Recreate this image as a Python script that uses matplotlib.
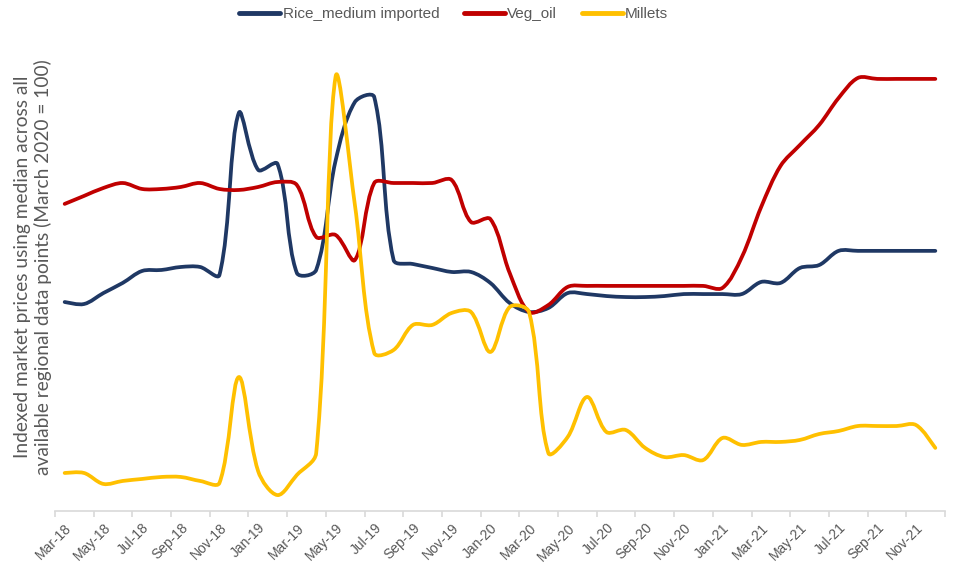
import matplotlib
matplotlib.use("Agg")
import matplotlib.pyplot as plt
from matplotlib.path import Path
from matplotlib.patches import PathPatch
from matplotlib.lines import Line2D
import numpy as np

months = ["Mar-18", "Apr-18", "May-18", "Jun-18", "Jul-18", "Aug-18", "Sep-18", "Oct-18",
          "Nov-18", "Dec-18", "Jan-19", "Feb-19", "Mar-19", "Apr-19", "May-19", "Jun-19",
          "Jul-19", "Aug-19", "Sep-19", "Oct-19", "Nov-19", "Dec-19", "Jan-20", "Feb-20",
          "Mar-20", "Apr-20", "May-20", "Jun-20", "Jul-20", "Aug-20", "Sep-20", "Oct-20",
          "Nov-20", "Dec-20", "Jan-21", "Feb-21", "Mar-21", "Apr-21", "May-21", "Jun-21",
          "Jul-21", "Aug-21", "Sep-21", "Oct-21", "Nov-21", "Dec-21"]

rice = [105.0, 104.0, 109.5, 114.6, 120.6, 121.1, 122.6, 122.6, 118.6, 200.0,
        171.4, 174.4, 119.6, 121.1, 175.9, 205.5, 208.0, 126.1, 124.1, 122.1,
        120.1, 120.1, 114.6, 104.5, 100.0, 102.0, 109.5, 109.0, 108.0, 107.5,
        107.5, 108.0, 109.0, 109.0, 109.0, 109.0, 115.1, 114.6, 122.1, 123.6,
        130.7, 130.7, 130.7, 130.7, 130.7, 130.7]

veg_oil = [154.3, 158.3, 162.3, 164.8, 161.8, 161.8, 162.8, 164.8, 161.8, 161.3,
           162.8, 165.3, 163.8, 137.7, 138.7, 126.1, 164.8, 164.8, 164.8, 164.8,
           166.3, 145.2, 146.7, 119.6, 100.0, 103.5, 112.6, 113.1, 113.1, 113.1,
           113.1, 113.1, 113.1, 113.1, 112.1, 127.6, 152.8, 173.4, 183.9, 194.0,
           207.5, 217.6, 217.1, 217.1, 217.1, 217.1]

millets = [19.1, 19.1, 13.6, 15.1, 16.1, 17.1, 17.1, 15.1, 14.1, 67.3,
           20.0, 8.0, 18.1, 29.1, 218.1, 153.8, 79.4, 80.9, 93.5, 93.5,
           99.5, 100.0, 79.9, 102.5, 100.0, 29.1, 37.2, 57.3, 39.7, 40.7,
           31.7, 27.1, 28.1, 25.6, 36.7, 33.2, 34.7, 34.7, 35.7, 38.7,
           40.2, 42.7, 42.7, 42.7, 43.2, 31.7]

series = [("Rice_medium imported", rice, "#1F3864"),
          ("Veg_oil", veg_oil, "#C00000"),
          ("Millets", millets, "#FFC000")]

# pixels per data unit, used to weight the smoothing like Excel does
SX, SY = 19.35, 1.99


def smooth_path(xs, ys):
    # smoothed line: cubic bezier through each point, tangent split by segment length
    pts = np.column_stack([xs, ys])
    n = len(pts)
    scr = pts * [SX, SY]

    def seg(a, b):
        return np.hypot(*(scr[b] - scr[a]))

    verts = [pts[0]]
    codes = [Path.MOVETO]
    for i in range(n - 1):
        i0 = max(i - 1, 0)
        i3 = min(i + 2, n - 1)
        d01, d12, d23 = seg(i0, i), seg(i, i + 1), seg(i + 1, i3)
        t1 = (pts[i + 1] - pts[i0])
        t2 = (pts[i3] - pts[i])
        w1 = d12 / (d01 + d12) if d01 + d12 > 0 else 0.5
        w2 = d12 / (d12 + d23) if d12 + d23 > 0 else 0.5
        if i == 0:
            w1 = 0.5
        if i + 2 >= n:
            w2 = 0.5
        c1 = pts[i] + t1 * w1 / 3.0
        c2 = pts[i + 1] - t2 * w2 / 3.0
        verts += [c1, c2, pts[i + 1]]
        codes += [Path.CURVE4] * 3
    return Path(verts, codes)


fig = plt.figure(figsize=(9.57, 5.65), dpi=100)
ax = fig.add_axes([55 / 957, 1 - 511 / 565, 890 / 957, 451 / 565])

x = np.arange(len(months)) + 0.5
for name, vals, col in series:
    p = smooth_path(x, np.array(vals))
    ax.add_patch(PathPatch(p, facecolor="none", edgecolor=col, lw=2.7,
                           capstyle="round", joinstyle="round"))

ax.set_xlim(0, len(months))
ax.set_ylim(0, 226.6)

for s in ["top", "right", "left"]:
    ax.spines[s].set_visible(False)
ax.spines["bottom"].set_color("#D9D9D9")
ax.spines["bottom"].set_linewidth(1.2)
ax.set_yticks([])

ax.set_xticks(np.arange(0, len(months) + 1, 2))
ax.set_xticklabels([])
ax.tick_params(axis="x", which="major", length=4, color="#D9D9D9", width=1.2)
ax.set_xticks(x[::2], minor=True)
ax.set_xticklabels(months[::2], minor=True, rotation=45, ha="right",
                   rotation_mode="anchor", fontsize=10, color="#595959",
                   family="Liberation Sans")
ax.tick_params(axis="x", which="minor", length=0, pad=7)

fig.text(33 / 957, 1 - 267 / 565,
         "Indexed market prices using median across all\navailable regional data points (March 2020 = 100)",
         rotation=90, ha="center", va="center", multialignment="center",
         fontsize=13.8, color="#595959", family="Lato", linespacing=1.2)

handles = [Line2D([0], [0], color=c, lw=3.5, solid_capstyle="round") for _, _, c in series]
fig.legend(handles, [n for n, _, _ in series], loc="center", bbox_to_anchor=(0.474, 1 - 14 / 565),
           ncol=3, frameon=False, handlelength=2.7, handletextpad=0.15, columnspacing=1.6,
           prop={"family": "Liberation Sans", "size": 11}, labelcolor="#595959")

fig.savefig("out.png", dpi=100)
